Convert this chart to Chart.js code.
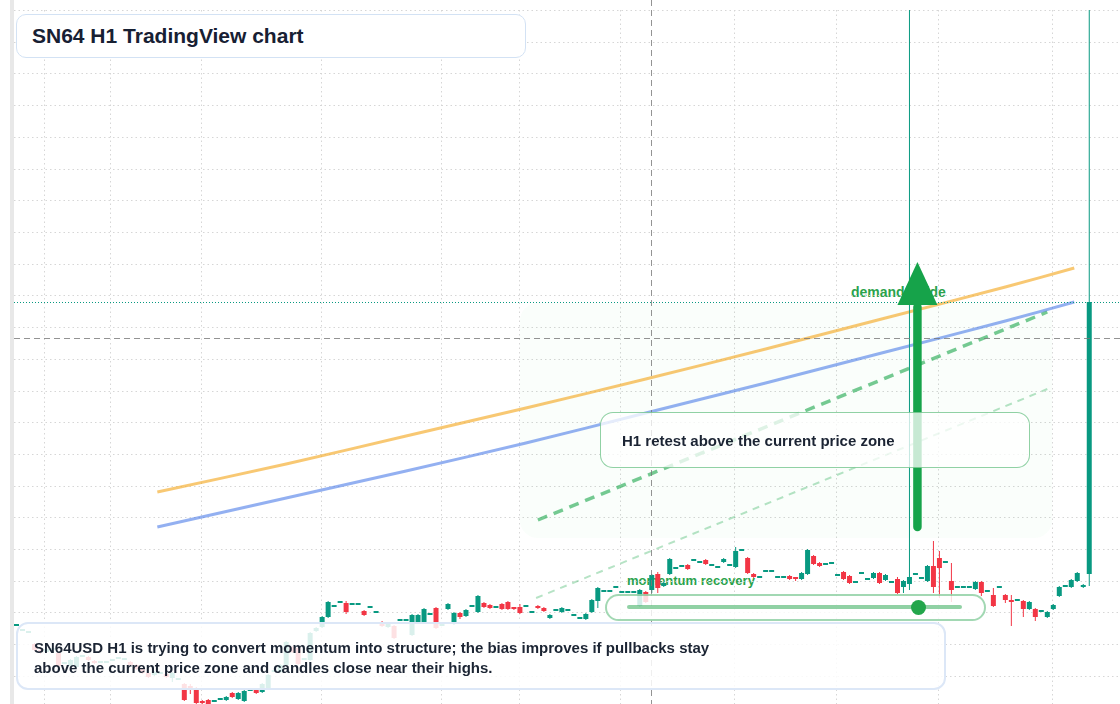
<!DOCTYPE html>
<html>
<head>
<meta charset="utf-8">
<title>SN64 H1 TradingView chart</title>
<script src="https://cdn.jsdelivr.net/npm/chart.js"></script>
<style>
  html, body { margin: 0; padding: 0; background: #fff; overflow: hidden; }
  body { width: 1120px; height: 704px; position: relative; font-family: "Liberation Sans", Arial, Helvetica, sans-serif; }
  #chartBox { position: absolute; left: 0; top: 0; width: 1120px; height: 704px; z-index: 1; }
  .tag { position: absolute; z-index: 0; font-weight: 700; color: #2ba24c; white-space: nowrap; line-height: 16px; }
  .box { position: absolute; z-index: 2; box-sizing: border-box; font-weight: 700; color: #1b2433; white-space: nowrap; }
  #strip { position: absolute; left: 10px; top: 0; width: 4px; height: 704px; background: #e8e8e8; z-index: 2; }
  #title { left: 16px; top: 14px; width: 510px; height: 44px; border: 1.5px solid #d3e2f4; border-radius: 10px;
           background: #fff; display: flex; align-items: center; padding-left: 15px; font-size: 21px; color: #172033; }
  #note { left: 16px; top: 622px; width: 930px; height: 68px; border: 2px solid #dce7f7; border-radius: 12px;
          background: rgba(255,255,255,0.85); padding: 14px 0 0 16px; font-size: 15px; line-height: 20px; }
  #retest { left: 600px; top: 412px; width: 430px; height: 56px; border: 1.5px solid rgba(34,163,74,0.5); border-radius: 13px;
            background: rgba(255,255,255,0.76); display: flex; align-items: center; padding-left: 21px; font-size: 15px; }
  #pill { left: 605px; top: 594px; width: 381px; height: 27px; border: 2px solid rgba(34,163,74,0.42); border-radius: 14px;
          background: rgba(255,255,255,0.82); }
  #pillLine { position: absolute; z-index: 3; left: 627px; top: 605px; width: 335px; height: 4px; border-radius: 2px; background: rgba(34,163,74,0.5); }
  #pillDot { position: absolute; z-index: 3; left: 910.5px; top: 599.5px; width: 15px; height: 15px; border-radius: 50%; background: #23a64b; }
</style>
</head>
<body>
<div class="tag" style="left:627px; top:573px; font-size:13px;">momentum recovery</div>
<div class="tag" style="left:851px; top:284px; font-size:14px;">demand guide</div>
<div id="chartBox"><canvas id="chart"></canvas></div>
<div id="strip"></div>
<div class="box" id="title">SN64 H1 TradingView chart</div>
<div class="box" id="retest">H1 retest above the current price zone</div>
<div class="box" id="pill"></div>
<div id="pillLine"></div>
<div id="pillDot"></div>
<div class="box" id="note">SN64USD H1 is trying to convert momentum into structure; the bias improves if pullbacks stay<br>above the current price zone and candles close near their highs.</div>
<script>
// H1 candles, oldest first
const open = [8.2,7.7,7.5,6.4,5.8,5.6,5.8,5.5,4.4,4.2, 4.1,5.1,5.1,4.7,4.5,4.5,4.7,4.9,4.8,4.6,
  4.3,3.9,3.5,3.3,3.4,3.4,3.0,2.8,2.4,2.2, 2.0,0.7,0.8,0.6,0.8,0.8,1.5,0.9,0.7,1.7,
  1.8,1.6,2.0,3.6,3.6,4.3,6.1,6.0,4.8,4.8, 7.7,8.1,9.1,10.1,10.5,10.5,10.3,10.3,9.7,10.0,
  9.5,8.6,8.1,8.2,8.7,8.7,7.3,8.6,8.6,9.3, 10.0,8.2,9.9,8.4,9.5,9.2,10.1,9.6,10.5,10.3,
  10.0,10.4,10.6,10.0,10.1,10.1,9.5,10.2,10.0,9.0, 9.7,9.6,9.7,9.2,8.9,8.9,9.6,10.7,11.6,11.6,
  12.0,11.5,11.5,11.5,10.2,11.6,11.8,13.4,12.2,13.4, 13.9,14.1,14.3,14.7,14.5,14.8,14.2,14.0,14.6,14.2,
  14.1,15.7,15.0,13.4,13.0,13.6,13.6,13.0,13.0,13.2, 13.0,12.9,13.4,15.2,14.5,14.3,14.4,13.2,13.6,13.2,
  12.5,13.4,12.8,13.0,13.5,12.8,12.5,12.9,12.1,12.4, 13.3,12.9,12.7,14.2,15.0,14.5,12.7,12.0,12.0,12.0,
  11.9,12.6,11.6,11.3,12.0,11.3,10.8,10.7,10.7,9.9, 9.9,9.6,9.1,9.9,11.2,12.1,12.1,12.7,12.1,13.4];
const high = [8.2,7.7,7.5,6.5,5.9,6.0,5.8,5.6,4.4,4.9, 5.2,5.1,5.2,4.8,4.5,4.5,4.7,4.9,4.8,4.7,
  4.4,4.0,3.6,3.7,3.4,3.5,3.6,2.8,2.5,2.4, 2.1,0.8,0.9,0.6,0.8,1.2,1.6,1.6,1.8,1.7,
  1.9,2.5,3.4,3.6,4.4,6.7,6.2,6.1,4.8,7.6, 8.1,9.2,10.7,10.1,10.5,10.7,10.3,10.3,9.8,10.0,
  9.5,8.7,8.5,8.3,8.7,8.7,9.4,9.4,10.0,9.3, 10.1,8.2,10.5,9.6,9.6,9.9,10.1,11.3,10.6,10.4,
  10.0,10.5,10.7,10.1,10.4,10.1,9.5,10.3,10.1,9.4, 9.7,10.1,9.7,9.2,8.9,9.5,10.9,12.1,11.6,11.6,
  12.0,11.5,11.5,11.5,11.9,11.7,13.4,13.6,12.6,15.0, 13.9,14.1,14.4,14.7,14.5,14.9,14.2,14.0,15.0,14.2,
  16.1,15.7,15.1,13.5,13.0,13.6,13.6,13.0,13.0,13.3, 13.1,13.6,15.9,15.3,14.6,14.3,14.4,13.2,13.7,13.3,
  12.5,13.4,12.8,13.6,13.6,13.4,12.5,13.1,12.8,75.8, 13.3,12.9,14.3,16.7,15.7,14.5,14.5,12.0,12.0,12.0,
  12.7,12.7,11.6,12.0,12.0,11.4,11.3,10.7,10.8,10.7, 10.0,9.6,9.7,10.4,12.2,12.1,12.9,13.6,12.4,75.8];
const low = [8.2,7.7,7.5,5.7,5.4,5.5,5.8,4.0,4.4,4.1, 4.0,5.1,4.7,4.4,4.5,4.5,4.7,4.9,4.8,4.2,
  3.8,3.4,3.0,3.2,3.4,3.0,2.6,2.8,0.7,1.4, 0.3,0.4,0.2,0.6,0.8,0.7,1.0,0.8,0.6,1.7,
  1.4,1.5,1.9,3.6,3.5,4.2,5.5,4.3,4.8,4.7, 7.6,8.0,9.0,10.1,10.5,9.4,10.3,10.3,9.2,10.0,
  9.5,8.1,8.0,6.9,8.7,8.7,7.2,8.5,8.5,9.3, 7.9,8.2,9.8,8.3,8.9,9.1,10.1,9.5,10.0,9.9,
  10.0,9.8,9.8,9.8,9.4,10.1,9.5,9.9,9.6,8.9, 9.7,9.5,9.7,9.2,8.9,8.8,9.5,10.0,11.6,11.6,
  12.0,11.5,11.5,11.5,10.1,10.5,11.5,11.5,12.1,13.3, 13.9,14.1,13.8,14.7,14.5,14.3,14.2,14.0,14.5,14.2,
  14.0,15.7,13.4,13.0,13.0,13.6,13.6,13.0,13.0,12.8, 12.7,12.8,13.3,14.3,14.1,14.3,14.4,13.2,12.8,12.4,
  12.5,13.4,12.8,12.9,12.4,12.7,12.5,11.4,11.5,11.8, 13.3,12.9,12.6,11.5,11.0,14.5,10.6,12.0,12.0,12.0,
  11.8,11.2,11.6,10.1,12.0,10.5,8.2,10.7,9.1,9.8, 8.7,9.6,9.0,9.8,11.1,12.1,12.0,12.6,12.0,12.2];
const close = [8.2,7.7,7.5,5.8,5.6,5.9,5.8,4.2,4.4,4.8, 5.1,5.1,4.8,4.5,4.5,4.5,4.7,4.9,4.8,4.3,
  3.9,3.5,3.1,3.6,3.4,3.1,3.5,2.8,0.8,1.8, 0.5,0.5,0.3,0.6,0.8,1.1,1.1,1.5,1.7,1.7,
  1.5,2.4,3.3,3.6,4.3,6.6,5.6,4.4,4.8,7.5, 8.0,9.1,10.6,10.1,10.5,9.6,10.3,10.3,9.3,10.0,
  9.5,8.2,8.4,7.0,8.7,8.7,9.3,9.3,9.9,9.3, 8.0,8.2,10.4,9.5,9.1,9.8,10.1,11.2,10.1,10.0,
  10.0,9.9,9.9,9.9,9.5,10.1,9.5,10.0,9.7,9.3, 9.7,10.0,9.7,9.2,8.9,9.4,10.8,12.0,11.6,11.6,
  12.0,11.5,11.5,11.5,11.8,10.6,13.3,12.0,12.5,14.9, 13.9,14.1,13.9,14.7,14.5,14.4,14.2,14.0,14.9,14.2,
  15.7,15.7,13.5,13.1,13.0,13.6,13.6,13.0,13.0,12.9, 12.9,13.5,15.8,14.4,14.2,14.3,14.4,13.2,12.9,12.5,
  12.5,13.4,12.8,13.5,12.5,13.3,12.5,11.5,12.7,13.1, 13.3,12.9,14.2,12.1,14.0,14.5,11.8,12.0,12.0,12.0,
  12.6,11.5,11.6,10.2,12.0,10.8,10.6,10.7,9.9,10.6, 9.1,9.6,9.6,10.3,12.1,12.1,12.8,13.5,12.3,40.6];

// overlay studies (candle index -> price)
const trendIdx = [23.5, 45, 65, 85, 105, 125, 145, 165, 176.5];
const emaSlow = [21.6, 24.4, 27.2, 30.0, 32.9, 35.9, 39.0, 42.1, 44.0];
const emaFast = [18.1, 21.0, 23.7, 26.5, 29.5, 32.5, 35.6, 38.7, 40.6];
const channelIdx = [87, 172];
const channelUpper = [18.8, 39.6];
const guideIdx = [86.7, 172];
const guideLower = [11.0, 31.9];

// annotation anchors
const zoneFrom = 84.0, zoneTo = 172.8, zoneTop = 40.5, zoneBottom = 17.0;
const arrowIdx = 150.33, arrowFrom = 18.1, arrowHeadBase = 40.3, arrowTo = 44.6;
const crossIdx = 105.8, crossPrice = 37.0;
const timeGrid = [4.75, 15.75, 30.87, 50.87, 70.87, 83.92, 100.75, 119.87, 136.87, 153.8, 172.8];
const priceStep = 3.17;

const UP = '#089981', DOWN = '#f23645';
const idx = open.map((_, i) => i);
const candleColor = ctx => close[ctx.dataIndex] >= open[ctx.dataIndex] ? UP : DOWN;

const overlay = {
    id: 'overlay',
    beforeDatasetsDraw(chart) {
        const {ctx, scales: {x, y}} = chart;
        const x0 = x.getPixelForValue(zoneFrom), x1 = x.getPixelForValue(zoneTo);
        const y0 = y.getPixelForValue(zoneTop), y1 = y.getPixelForValue(zoneBottom);
        ctx.save();
        ctx.fillStyle = 'rgba(34,197,94,0.022)';
        ctx.beginPath();
        ctx.roundRect(x0, y0, x1 - x0, y1 - y0, 18);
        ctx.fill();
        ctx.restore();
    },
    afterDatasetsDraw(chart) {
        const {ctx, chartArea: a, scales: {x, y}} = chart;
        ctx.save();
        // crosshair
        ctx.lineWidth = 1;
        ctx.strokeStyle = 'rgba(120,120,120,0.8)';
        ctx.setLineDash([6, 4]);
        const cx = Math.round(x.getPixelForValue(crossIdx)) + 0.5;
        ctx.beginPath(); ctx.moveTo(cx, 0); ctx.lineTo(cx, chart.height); ctx.stroke();
        const cy = Math.round(y.getPixelForValue(crossPrice)) + 0.5;
        ctx.beginPath(); ctx.moveTo(a.left, cy); ctx.lineTo(a.right, cy); ctx.stroke();
        // last price line
        const py = Math.round(y.getPixelForValue(close[close.length - 1])) + 0.5;
        ctx.strokeStyle = UP;
        ctx.setLineDash([1, 2]);
        ctx.beginPath(); ctx.moveTo(a.left, py); ctx.lineTo(a.right, py); ctx.stroke();
        // demand arrow
        const ax = x.getPixelForValue(arrowIdx);
        const yb = y.getPixelForValue(arrowHeadBase);
        ctx.setLineDash([]);
        ctx.strokeStyle = ctx.fillStyle = '#16a34a';
        ctx.lineWidth = 8.5;
        ctx.lineCap = 'round';
        ctx.beginPath(); ctx.moveTo(ax, y.getPixelForValue(arrowFrom)); ctx.lineTo(ax, yb + 2); ctx.stroke();
        ctx.beginPath();
        ctx.moveTo(ax, y.getPixelForValue(arrowTo));
        ctx.lineTo(ax + 20, yb);
        ctx.lineTo(ax - 20, yb);
        ctx.closePath();
        ctx.fill();
        ctx.restore();
    }
};

const gridOpts = {color: '#d6d6d6', drawTicks: false, offset: false};

new Chart(document.getElementById('chart'), {
    type: 'line',
    data: {
        datasets: [
            {
                type: 'bar',
                label: 'body',
                data: idx.map(i => ({x: i, y: [open[i], close[i]]})),
                backgroundColor: candleColor,
                barThickness: 5,
                minBarLength: 2,
                inflateAmount: 0,
                grouped: false,
                order: 1
            },
            {
                type: 'bar',
                label: 'wick',
                data: idx.map(i => ({x: i, y: [low[i], high[i]]})),
                backgroundColor: candleColor,
                barThickness: 1,
                inflateAmount: 0,
                grouped: false,
                clip: 0,
                order: 2
            },
            {
                label: 'slow',
                data: trendIdx.map((v, k) => ({x: v, y: emaSlow[k]})),
                borderColor: 'rgba(244,170,40,0.65)',
                borderWidth: 3,
                pointRadius: 0,
                tension: 0.3,
                order: 3
            },
            {
                label: 'fast',
                data: trendIdx.map((v, k) => ({x: v, y: emaFast[k]})),
                borderColor: 'rgba(59,111,230,0.55)',
                borderWidth: 3,
                pointRadius: 0,
                tension: 0.3,
                order: 3
            },
            {
                label: 'channel',
                data: channelIdx.map((v, k) => ({x: v, y: channelUpper[k]})),
                borderColor: 'rgba(34,170,80,0.62)',
                borderWidth: 3.5,
                borderDash: [10, 7],
                pointRadius: 0,
                order: 3
            },
            {
                label: 'guide',
                data: guideIdx.map((v, k) => ({x: v, y: guideLower[k]})),
                borderColor: 'rgba(34,170,80,0.33)',
                borderWidth: 2,
                borderDash: [7, 6],
                pointRadius: 0,
                order: 3
            }
        ]
    },
    options: {
        responsive: true,
        maintainAspectRatio: false,
        animation: false,
        events: [],
        layout: {padding: {left: 14, top: 10, right: 0, bottom: 0}},
        plugins: {legend: {display: false}, tooltip: {enabled: false}},
        scales: {
            x: {
                type: 'linear',
                min: -0.417,
                max: 184.13,
                offset: false,
                grid: gridOpts,
                border: {display: false, dash: [1.5, 3]},
                ticks: {display: false},
                afterBuildTicks: s => { s.ticks = timeGrid.map(v => ({value: v})); }
            },
            y: {
                type: 'linear',
                min: 0.4,
                max: 69.8,
                grid: gridOpts,
                border: {display: false, dash: [1.5, 3]},
                ticks: {display: false},
                afterBuildTicks: s => {
                    const t = [];
                    for (let m = 1; m * priceStep < s.max; m++) t.push({value: +(m * priceStep).toFixed(2)});
                    s.ticks = t;
                }
            }
        }
    },
    plugins: [overlay]
});
</script>
</body>
</html>
